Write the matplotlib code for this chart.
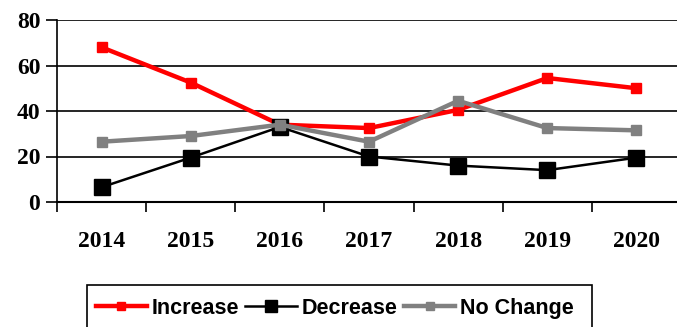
import matplotlib.pyplot as plt
from matplotlib.patches import Rectangle
import numpy as np

# data
years = ["2014", "2015", "2016", "2017", "2018", "2019", "2020"]
increase = [68, 52.5, 34, 32.5, 40.5, 54.5, 50]
decrease = [6.5, 19.5, 33, 20, 16, 14, 19.5]
no_change = [26.5, 29, 34, 26.5, 44.5, 32.5, 31.5]

fig = plt.figure(figsize=(6.77, 3.27), dpi=100)
W, H = 677.0, 327.0
ax = fig.add_axes([57 / W, 1 - 202 / H, 624 / W, 182 / H])

x = np.arange(len(years))
ax.plot(x, increase, color="#ff0000", lw=3.2, marker="s", ms=7, mec="#ff0000", label="Increase", zorder=3)
ax.plot(x, decrease, color="black", lw=1.8, marker="s", ms=11, mec="black", label="Decrease", zorder=4)
ax.plot(x, no_change, color="#808080", lw=3.2, marker="s", ms=7.5, mec="#808080", label="No Change", zorder=5)

ax.set_xlim(-0.5, 6.5)
ax.set_ylim(0, 80)
ax.set_yticks([0, 20, 40, 60, 80])
for yv in [20, 40, 60, 80]:
    ax.axhline(yv, color="black", lw=1.2, zorder=1)

# ticks at category boundaries, labels in the middle
ax.set_xticks(np.arange(-0.5, 7, 1))
ax.set_xticklabels([])
ax.set_xticks(x, minor=True)
ax.set_xticklabels(years, minor=True)
ax.tick_params(axis="x", which="minor", length=0, pad=21)
ax.tick_params(axis="x", which="major", length=7, width=1.2, direction="out")
ax.tick_params(axis="y", length=8, width=1.2, direction="out", pad=4)

for lab in ax.get_xticklabels(minor=True) + ax.get_yticklabels():
    lab.set_fontfamily("Liberation Serif")
    lab.set_fontweight("bold")
    lab.set_fontsize(17)

for s in ["top", "right"]:
    ax.spines[s].set_visible(False)
ax.spines["left"].set_linewidth(1.2)
ax.spines["bottom"].set_linewidth(1.5)

# legend box runs off the bottom of the picture
fig.patches.append(Rectangle((87 / W, -0.05), (592 - 87) / W, 0.05 + 1 - 285 / H,
                             transform=fig.transFigure, fill=False, ec="black", lw=1.2))
leg = fig.legend(loc="upper left", bbox_to_anchor=(88 / W, 1 - 290 / H), ncol=3,
                 prop={"family": "Liberation Sans", "weight": "bold", "size": 15.5},
                 frameon=False, handlelength=2.4,
                 handletextpad=0.2, columnspacing=0.3, borderpad=0.35, borderaxespad=0,
                 markerscale=0.75)

fig.savefig("out.png", dpi=100)
